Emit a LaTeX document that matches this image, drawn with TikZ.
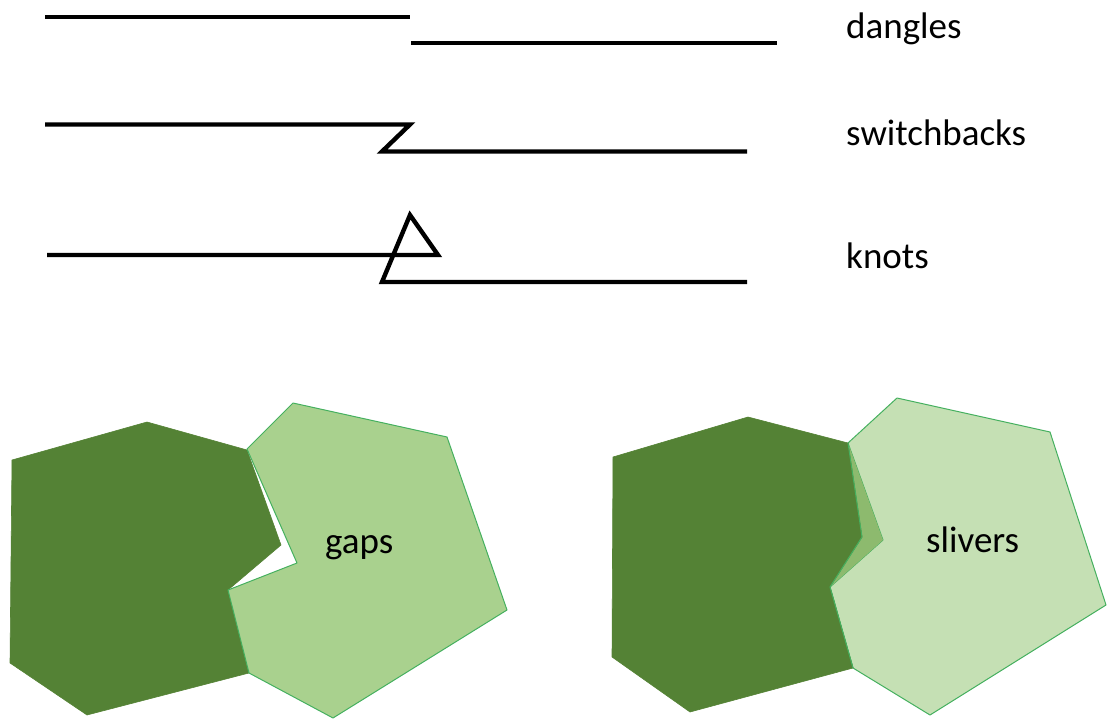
\documentclass[tikz,border=0pt]{standalone}
\usepackage{fontspec}
\setmainfont{Carlito}
\definecolor{darkgreen}{HTML}{548235}
\definecolor{lightA}{HTML}{A9D18E}
\definecolor{lightB}{HTML}{C5E0B4}
\definecolor{sliverc}{HTML}{8DBA6E}
\definecolor{edgegreen}{HTML}{45B05F}
\tikzset{
  errline/.style={line width=4.4pt, black, line join=miter},
  label/.style={anchor=base west, inner sep=0pt, font=\fontsize{37}{40}\selectfont},
  darkpoly/.style={fill=darkgreen, draw=darkgreen, line width=0.6pt, line join=round},
  lightpoly/.style={draw=edgegreen, line width=1pt, line join=round},
}
\begin{document}
\begin{tikzpicture}[x=1pt,y=-1pt]
\useasboundingbox (0,0) rectangle (1108,719);
% dangles
\draw[errline] (45,17) -- (410,17);
\draw[errline] (411,43) -- (777,43);
\node[label] (dangles) at (846,39) {dangles};
% switchbacks
\draw[errline] (45,124.5) -- (410,124.5) -- (382,151.5) -- (747,151.5);
\node[label] (switchbacks) at (846,146) {switchbacks};
% knots
\draw[errline] (47,255) -- (438,255) -- (410,215) -- (382,282) -- (747,282);
\node[label] (knots) at (846,269) {knots};

% gaps group
\fill[darkpoly] (12,460) -- (147,422) -- (247,450) -- (281,545) -- (228,590) -- (249,673) -- (87,715) -- (10,663) -- cycle;
\filldraw[lightpoly, fill=lightA] (247,449) -- (293,403) -- (447,437) -- (507,610) -- (333,718) -- (249,673) -- (228,590) -- (297,563) -- cycle;
\node[label] (gaps) at (325,553) {gaps};

% slivers group
\filldraw[lightpoly, fill=lightB] (848,443) -- (897,398) -- (1050,432) -- (1106,605) -- (930,715) -- (853,668) -- (830,587) -- (883,540) -- cycle;
\fill[sliverc] (848,443) -- (883,540) -- (830,587) -- (862,537) -- cycle;
\fill[darkpoly] (613,457) -- (748,417) -- (848,443) -- (862,537) -- (830,587) -- (853,668) -- (690,712) -- (612,657) -- cycle;
\draw[edgegreen, line width=1pt, line join=round] (848,443) -- (862,537) -- (830,587) -- (853,668);
\node[label] (slivers) at (926,552) {slivers};
\end{tikzpicture}
\end{document}
